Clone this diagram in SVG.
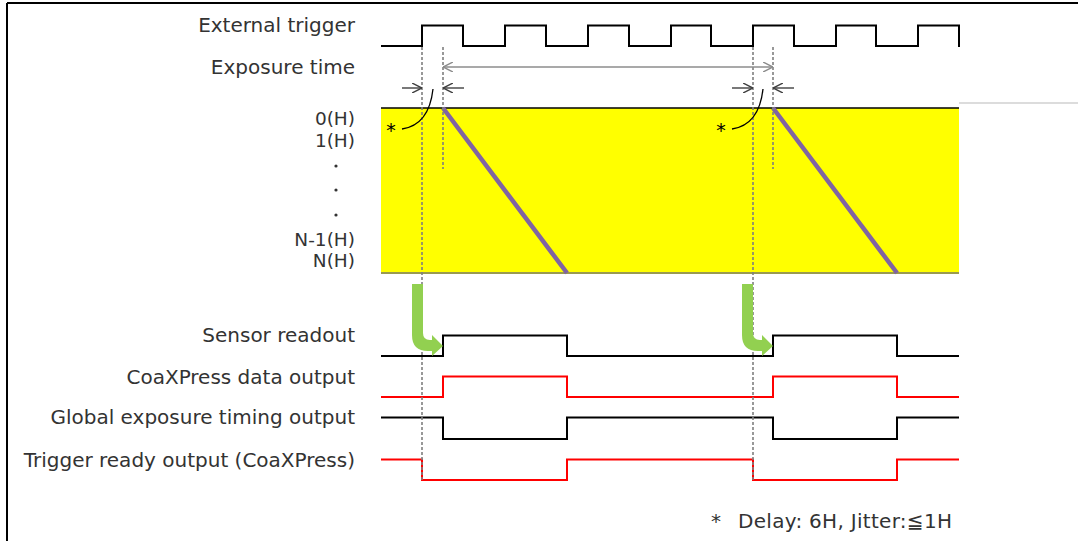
<svg xmlns="http://www.w3.org/2000/svg" width="1078" height="541" viewBox="0 0 1078 541">
<defs>
<style>
.lbl{font-family:"DejaVu Sans","Liberation Sans",sans-serif;font-size:20px;fill:#333;text-anchor:end}
.row{font-family:"DejaVu Sans","Liberation Sans",sans-serif;font-size:18.5px;fill:#333;text-anchor:end}
.note{font-family:"DejaVu Sans","Liberation Sans",sans-serif;font-size:20px;fill:#333}
.ast{font-family:"DejaVu Sans","Liberation Sans",sans-serif;font-size:19px;fill:#000;text-anchor:middle}
.blk{fill:none;stroke:#000;stroke-width:2}
.red{fill:none;stroke:#ff0000;stroke-width:2}
.dash{fill:none;stroke:#7f7f7f;stroke-width:1.6;stroke-dasharray:3 2}
.gar{fill:none;stroke:#8c8c8c;stroke-width:1.4}
.dar{fill:none;stroke:#404040;stroke-width:1.4}
.diag{stroke:#8064a2;stroke-width:4.5}
.grn{fill:#92d050}
</style>
<marker id="ohg" viewBox="0 0 10 10" refX="10" refY="5" markerWidth="10" markerHeight="10" markerUnits="userSpaceOnUse" orient="auto-start-reverse">
<path d="M0,0 L10,5 L0,10" fill="none" stroke="#8c8c8c" stroke-width="1.4"/>
</marker>
<marker id="ohd" viewBox="0 0 10 10" refX="10" refY="5" markerWidth="10" markerHeight="10" markerUnits="userSpaceOnUse" orient="auto">
<path d="M0,0 L10,5 L0,10" fill="none" stroke="#404040" stroke-width="1.4"/>
</marker>
</defs>
<rect x="0" y="0" width="1078" height="541" fill="#fff"/>
<g id="frame">
<path d="M7,3 H1078 M7,3 V541" fill="none" stroke="#000" stroke-width="2"/>
<path d="M959,103 H1078" fill="none" stroke="#dcdcdc" stroke-width="2"/>
</g>
<g id="sensor-area">
<rect x="381" y="108" width="578" height="165" fill="#ffff00"/>
<path d="M381,108 H959" stroke="#000" stroke-width="1.5"/>
<path d="M381,273 H959" stroke="#9a9a50" stroke-width="2"/>
<path class="diag" d="M443,108 L567,273"/>
<path class="diag" d="M773,108 L897,273"/>
</g>
<g id="labels">
<text class="lbl" x="355" y="32">External trigger</text>
<text class="lbl" x="355" y="74">Exposure time</text>
<text class="row" x="355" y="125">0(H)</text>
<text class="row" x="355" y="147">1(H)</text>
<circle cx="336" cy="166" r="1.6" fill="#333"/>
<circle cx="336" cy="190" r="1.6" fill="#333"/>
<circle cx="336" cy="215" r="1.6" fill="#333"/>
<text class="row" x="355" y="246">N-1(H)</text>
<text class="row" x="355" y="267">N(H)</text>
<text class="lbl" x="355" y="342">Sensor readout</text>
<text class="lbl" x="355" y="384">CoaXPress data output</text>
<text class="lbl" x="355" y="424">Global exposure timing output</text>
<text class="lbl" x="355" y="467">Trigger ready output (CoaXPress)</text>
<text class="note" x="711" y="528">*</text>
<text class="note" x="738" y="528" textLength="214">Delay: 6H, Jitter:≦1H</text>
</g>
<g id="waveforms">
<path id="ext-trigger" class="blk" d="M381,46 H422 V25.5 H463 V46 H505 V25.5 H546 V46 H588 V25.5 H629 V46 H671 V25.5 H711 V46 H753 V25.5 H794 V46 H836 V25.5 H876 V46 H918 V25.5 H959 V47"/>
<path id="sensor-readout" class="blk" d="M381,356 H443 V335.5 H567 V356 H773 V335.5 H897 V356 H959"/>
<path id="cxp-data" class="red" d="M381,397 H443 V376.5 H567 V397 H773 V376.5 H897 V397 H959"/>
<path id="global-exp" class="blk" d="M381,417.5 H443 V439 H567 V417.5 H773 V439 H897 V417.5 H959"/>
<path id="trig-ready" class="red" d="M381,459.5 H422 V480 H567 V459.5 H753 V480 H897 V459.5 H959"/>
</g>
<g id="connectors">
<path class="dash" d="M422,47 V480"/>
<path class="dash" d="M443,47 V169"/>
<path class="dash" d="M753,47 V480"/>
<path class="dash" d="M773,47 V169"/>
<path class="gar" d="M443,67 H773" marker-start="url(#ohg)" marker-end="url(#ohg)"/>
<path class="dar" d="M402,88 H422" marker-end="url(#ohd)"/>
<path class="dar" d="M464,88 H443" marker-end="url(#ohd)"/>
<path class="dar" d="M732,88 H753" marker-end="url(#ohd)"/>
<path class="dar" d="M794,88 H773" marker-end="url(#ohd)"/>
<path fill="none" stroke="#000" stroke-width="1.3" d="M433,89 Q429,125 402,129"/>
<path fill="none" stroke="#000" stroke-width="1.3" d="M763,89 Q759,125 732,129"/>
<text class="ast" x="391" y="137">*</text>
<text class="ast" x="721" y="137">*</text>
<path class="grn" d="M412,284 H423 V333 Q423,340 430,340 H432 V335 L443,346 L432,356 V351 H428 Q412,351 412,335 Z"/>
<path class="grn" d="M742,284 H753 V333 Q753,340 760,340 H762 V335 L773,346 L762,356 V351 H758 Q742,351 742,335 Z"/>
</g>
</svg>
